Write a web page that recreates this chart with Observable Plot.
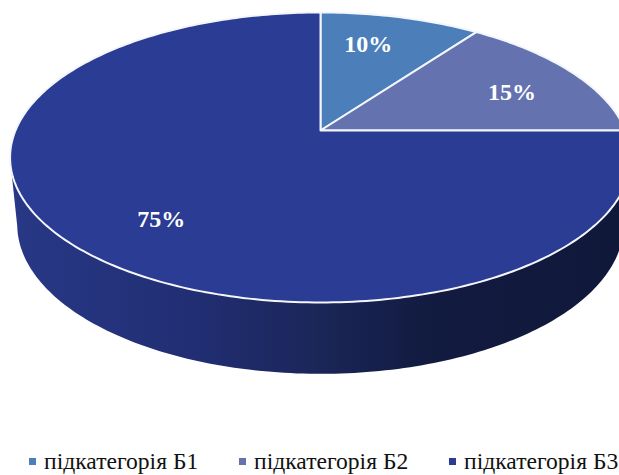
<!DOCTYPE html>
<html lang="uk">
<head>
<meta charset="utf-8">
<script src="https://cdn.jsdelivr.net/npm/d3@7"></script>
<script src="https://cdn.jsdelivr.net/npm/@observablehq/plot@0.6"></script>
<style>
html,body{margin:0;padding:0;background:#fff;overflow:hidden}
#chart svg{display:block}
#legend{position:relative;height:30px;width:619px;overflow:hidden;font:23.6px "Liberation Serif",serif;color:#111;white-space:nowrap}
#legend span{position:absolute;top:1px;line-height:30px}
#legend i{position:absolute;top:13px;width:7px;height:7px}
</style>
</head>
<body>
<div id="chart"></div>
<div id="legend"></div>
<script>
const categories = ["підкатегорія Б1", "підкатегорія Б2", "підкатегорія Б3"];
const shares = [10, 15, 75];
const colors = ["#4c7fba", "#6473b0", "#2a3c93"];

// Tilted-disc projection: disc (u, v) -> projected plane, in which the pie centre sits at 0,0
const k = 0.186;
const project = (r, deg) => {
  const t = deg * Math.PI / 180, u = r * Math.sin(t), v = r * Math.cos(t), d = 1 + k * v;
  return {px: u / d, py: v / d};
};
const cum = d3.cumsum(shares);
const slices = categories.flatMap((cat, i) => {
  const a0 = (cum[i] - shares[i]) * 3.6, a1 = cum[i] * 3.6;
  const pts = [{cat, ...project(0, 0)}];
  for (let a = a0; a < a1; a += 1) pts.push({cat, ...project(1, a)});
  pts.push({cat, ...project(1, a1)}, {cat, ...project(0, 0)});
  return pts;
});

// Side wall: front of the disc rim, then the same rim lowered and slightly narrowed
const yCentre = -27 / 140, drop = 67 / 140, narrow = 0.977, tall = 1.03;
const tangent = Math.acos(-k) * 180 / Math.PI;
const rim = [];
for (let a = tangent; a <= 360 - tangent + 0.01; a += 1) rim.push(project(1, a));
const lower = rim.map(p => ({px: p.px * narrow, py: (p.py - yCentre) * tall + yCentre - drop})).reverse();
const wall = [...rim, ...lower, rim[0]];

const labels = categories.map((cat, i) => {
  const mid = (cum[i] - shares[i] / 2) * 3.6;
  return {cat, text: shares[i] + "%", ...project(0.7, mid)};
});
const nudges = [[-11, -3], [12, 4], [7, 12]];

const gradient = () => {
  const defs = d3.create("svg:defs");
  const g = defs.append("linearGradient").attr("id", "wallFill")
    .attr("gradientUnits", "userSpaceOnUse").attr("x1", 10).attr("x2", 620).attr("y1", 0).attr("y2", 0);
  [[0, "#283886"], [0.3, "#212e73"], [0.5, "#1b2659"], [0.68, "#121b40"], [1, "#10183a"]]
    .forEach(([o, c]) => g.append("stop").attr("offset", o).attr("stop-color", c));
  return defs.node();
};

const plot = Plot.plot({
  width: 619,
  height: 445,
  margin: 0,
  x: {axis: null, domain: [-1, 1], range: [15, 625]},
  y: {axis: null, domain: [130 / 140, -315 / 140], range: [0, 445]},
  color: {domain: categories, range: colors},
  marks: [
    gradient,
    Plot.line(wall, {x: "px", y: "py", fill: "url(#wallFill)", stroke: "none", curve: "linear"}),
    Plot.line(slices, {x: "px", y: "py", z: "cat", fill: "cat", stroke: "#f4f6fb", strokeWidth: 2, curve: "linear", strokeLinejoin: "round"}),
    ...labels.map((d, i) => Plot.text([d], {
      x: "px", y: "py", text: "text", fill: "white", dx: nudges[i][0], dy: nudges[i][1],
      fontFamily: "Liberation Serif", fontWeight: "bold", fontSize: 24
    }))
  ]
});
document.getElementById("chart").append(plot);

const legendX = [[29, 44], [239, 254], [449, 464]];
const legend = document.getElementById("legend");
categories.forEach((c, i) => {
  const sw = document.createElement("i");
  sw.style.left = legendX[i][0] + "px";
  sw.style.background = colors[i];
  const t = document.createElement("span");
  t.style.left = legendX[i][1] + "px";
  t.textContent = c;
  legend.append(sw, t);
});
</script>
</body>
</html>
